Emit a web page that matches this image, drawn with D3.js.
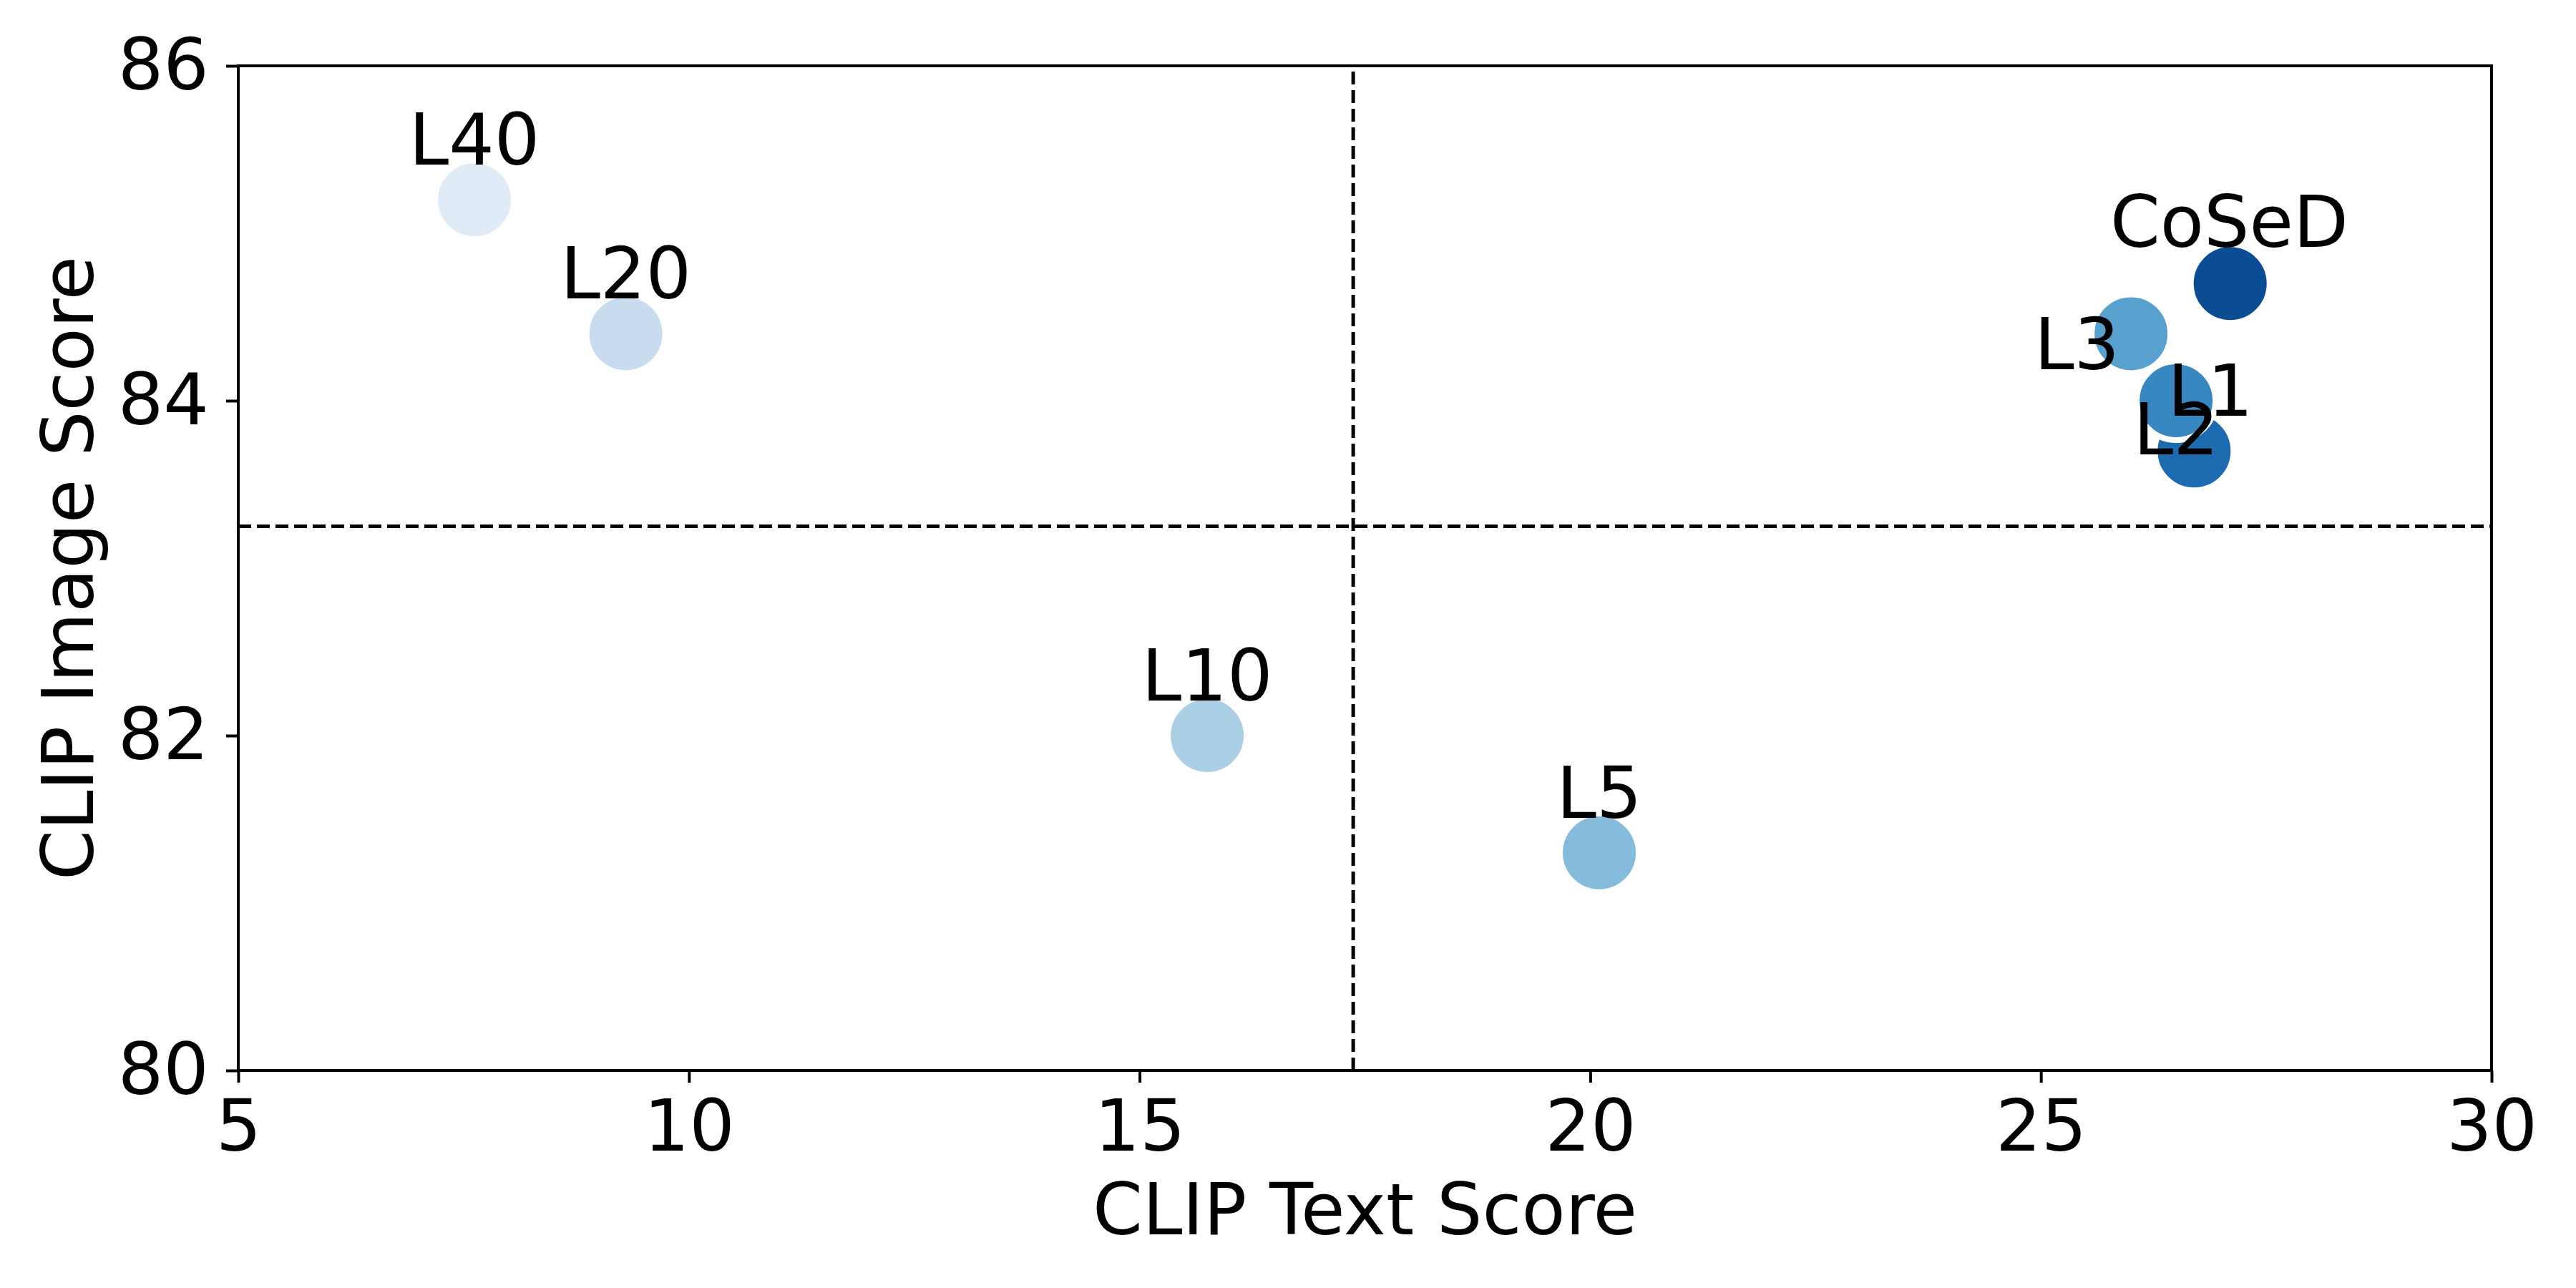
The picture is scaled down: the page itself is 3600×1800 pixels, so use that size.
<!DOCTYPE html>
<html>
<head>
<meta charset="utf-8">
<script src="https://cdn.jsdelivr.net/npm/d3@7"></script>
<style>
  body { margin: 0; background: #fff; }
  text { font-family: "DejaVu Sans", sans-serif; fill: #000; }
</style>
</head>
<body>
<div id="chart"></div>
<script>
// data
const names = ["L40", "L20", "L10", "L5", "L3", "L2", "L1", "CoSeD"];
const textScore = [7.62, 9.3, 15.75, 20.1, 26.0, 26.7, 26.5, 27.1];
const imageScore = [85.2, 84.4, 82.0, 81.3, 84.4, 83.7, 84.0, 84.7];
const colors = ["#dfebf7", "#c9dcef", "#abd0e6", "#85bcdc", "#58a1cf", "#1c6ab0", "#3787c0", "#0b4d94"];
// where each name label sits (data units, baseline centre)
const labelX = [7.62, 9.3, 15.75, 20.1, 25.40, 26.50, 26.88, 27.09];
const labelY = [85.41, 84.61, 82.21, 81.51, 84.19, 83.68, 83.91, 84.92];
// reference lines
const refText = 17.37;
const refImage = 83.25;
const xTicks = [5, 10, 15, 20, 25, 30];
const yTicks = [80, 82, 84, 86];

const width = 3600, height = 1800;
const margin = {top: 92, right: 118, bottom: 304, left: 333};
const fontSize = 100;

const svg = d3.select("#chart").append("svg")
    .attr("width", width)
    .attr("height", height);

const x = d3.scaleLinear().domain([5, 30]).range([margin.left, width - margin.right]);
const y = d3.scaleLinear().domain([80, 86]).range([height - margin.bottom, margin.top]);

// dashed reference lines
svg.append("line")
    .attr("x1", x(refText)).attr("x2", x(refText))
    .attr("y1", y.range()[0]).attr("y2", y.range()[1])
    .attr("stroke", "#000").attr("stroke-width", 5)
    .attr("stroke-dasharray", "18,8");
svg.append("line")
    .attr("x1", x.range()[0]).attr("x2", x.range()[1])
    .attr("y1", y(refImage)).attr("y2", y(refImage))
    .attr("stroke", "#000").attr("stroke-width", 5)
    .attr("stroke-dasharray", "18,8");

// points
let points = names.map((n, i) => ({name: n, tx: textScore[i], im: imageScore[i], color: colors[i], lx: labelX[i], ly: labelY[i]}));

svg.append("g").selectAll("circle")
    .data(points)
    .enter()
    .append("circle")
    .attr("cx", d => x(d.tx))
    .attr("cy", d => y(d.im))
    .attr("r", 55)
    .attr("fill", d => d.color)
    .attr("stroke", "#fff")
    .attr("stroke-width", 8);

svg.append("g").selectAll("text")
    .data(points)
    .enter()
    .append("text")
    .attr("x", d => x(d.lx))
    .attr("y", d => y(d.ly))
    .attr("text-anchor", "middle")
    .style("font-size", fontSize + "px")
    .text(d => d.name);

// axes
const xAxis = svg.append("g")
    .attr("transform", "translate(0," + y.range()[0] + ")")
    .call(d3.axisBottom(x).tickValues(xTicks).tickFormat(d3.format("d"))
        .tickSize(17).tickSizeOuter(0).tickPadding(24));
const yAxis = svg.append("g")
    .attr("transform", "translate(" + x.range()[0] + ",0)")
    .call(d3.axisLeft(y).tickValues(yTicks).tickFormat(d3.format("d"))
        .tickSize(17).tickSizeOuter(0).tickPadding(24));

[xAxis, yAxis].forEach(a => {
    a.select(".domain").remove();
    a.selectAll(".tick line").attr("stroke", "#000").attr("stroke-width", 4);
    a.selectAll(".tick text")
        .style("font-size", fontSize + "px")
        .style("font-family", "DejaVu Sans")
        .attr("fill", "#000");
});

// frame
svg.append("rect")
    .attr("x", x.range()[0])
    .attr("y", y.range()[1])
    .attr("width", x.range()[1] - x.range()[0])
    .attr("height", y.range()[0] - y.range()[1])
    .attr("fill", "none")
    .attr("stroke", "#000")
    .attr("stroke-width", 4);

// axis titles
svg.append("text")
    .attr("x", (x.range()[0] + x.range()[1]) / 2)
    .attr("y", 1725)
    .attr("text-anchor", "middle")
    .style("font-size", fontSize + "px")
    .text("CLIP Text Score");

svg.append("text")
    .attr("transform", "translate(130," + (y.range()[0] + y.range()[1]) / 2 + ") rotate(-90)")
    .attr("text-anchor", "middle")
    .style("font-size", fontSize + "px")
    .text("CLIP Image Score");
</script>
</body>
</html>
